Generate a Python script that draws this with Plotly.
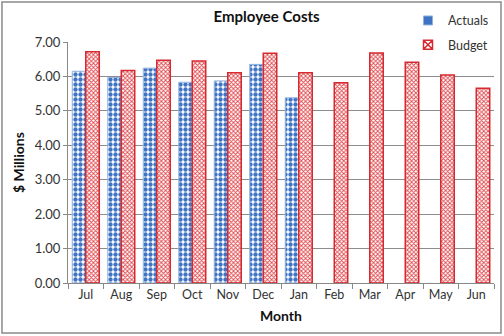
import plotly.graph_objects as go

months = ["Jul", "Aug", "Sep", "Oct", "Nov", "Dec", "Jan", "Feb", "Mar", "Apr", "May", "Jun"]
actuals = [6.15, 5.97, 6.24, 5.83, 5.87, 6.35, 5.38, None, None, None, None, None]
budget = [6.72, 6.17, 6.47, 6.45, 6.11, 6.67, 6.11, 5.82, 6.68, 6.41, 6.04, 5.66]
y_ticks = [0, 1, 2, 3, 4, 5, 6, 7]
y_labels = ["0.00", "1.00", "2.00", "3.00", "4.00", "5.00", "6.00", "7.00"]

FONT = "Lato"
fig = go.Figure()
fig.add_trace(go.Bar(
    x=months, y=actuals, name="Actuals", showlegend=False, legendgroup="a",
    marker=dict(
        color="white",
        line=dict(color="#8fb0de", width=1),
        pattern=dict(shape=".", fgcolor="#3f74c4", bgcolor="white", size=5, solidity=0.6, fillmode="replace"),
    ),
))
fig.add_trace(go.Bar(
    x=months, y=budget, name="Budget", showlegend=False, legendgroup="b",
    marker=dict(
        color="white",
        line=dict(color="#d42a30", width=1.5),
        pattern=dict(shape="x", fgcolor="#e0474c", bgcolor="white", size=3, solidity=0.5, fillmode="replace"),
    ),
))
# legend entries
fig.add_trace(go.Scatter(x=[None], y=[None], mode="markers", name="Actuals", legendgroup="a",
                         marker=dict(symbol="square", size=9, color="#3f74c4", line=dict(color="#8fb0de", width=1))))
fig.add_trace(go.Scatter(x=[None], y=[None], mode="markers", name="Budget", legendgroup="b",
                         marker=dict(symbol="square-x-open", size=9, color="#d42a30", line=dict(width=1.5))))

fig.update_layout(
    width=504, height=336,
    margin=dict(l=68, r=10, t=42, b=53, autoexpand=False),
    paper_bgcolor="white", plot_bgcolor="white",
    barmode="group", bargap=0.24, bargroupgap=0,
    font=dict(family=FONT, size=12, color="#333"),
    title=dict(text="<b>Employee Costs</b>", x=0.529, xanchor="center", y=1 - 17 / 336, yanchor="middle",
               font=dict(family=FONT, size=15, color="#111")),
    legend=dict(x=1.0, xanchor="right", y=1.15, yanchor="top", bgcolor="rgba(0,0,0,0)",
                font=dict(family=FONT, size=12.5, color="#333"), tracegroupgap=5, itemwidth=30),
    xaxis=dict(
        type="category", tickson="boundaries", ticks="outside", ticklen=5, tickcolor="#888",
        showline=True, linecolor="#888", linewidth=1, showgrid=False,
        title=dict(text="<b>Month</b>", font=dict(family=FONT, size=14, color="#111"), standoff=10),
        tickfont=dict(family=FONT, size=12.5),
    ),
    yaxis=dict(
        range=[0, 7], tickvals=y_ticks, ticktext=y_labels, showgrid=True, gridcolor="#8c8c8c", gridwidth=1,
        showline=True, linecolor="#888", ticks="outside", ticklen=4, tickcolor="#888",
        title=dict(text="<b>$ Millions</b>", font=dict(family=FONT, size=14, color="#111"), standoff=6),
        tickfont=dict(family=FONT, size=13), zeroline=False,
    ),
)

fig.add_shape(type="rect", xref="paper", yref="paper",
              x0=-0.155, x1=1.0164, y0=-0.2075, y1=1.166,
              line=dict(color="#8a8a8a", width=1.5), fillcolor="rgba(0,0,0,0)", layer="below")

fig.write_html("out.html")
